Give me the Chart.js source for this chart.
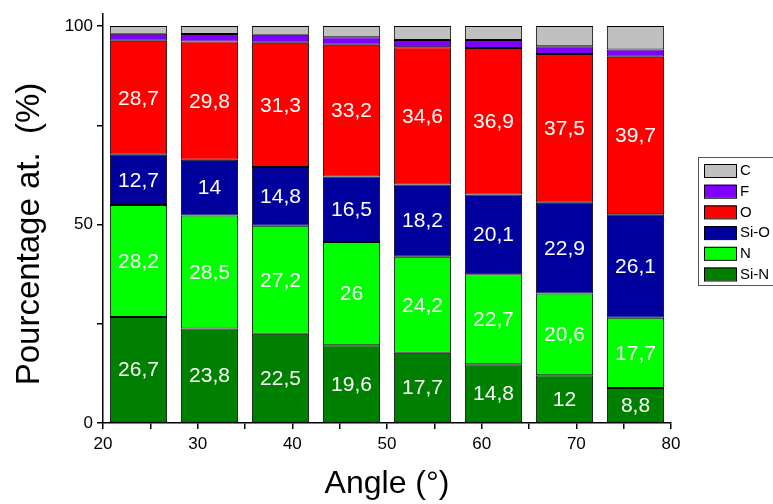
<!DOCTYPE html>
<html>
<head>
<meta charset="utf-8">
<script src="https://cdn.jsdelivr.net/npm/chart.js@4"></script>
<style>
  html, body { margin: 0; padding: 0; background: #fff; }
  #wrap { width: 773px; height: 504px; }
</style>
</head>
<body>
<div id="wrap"><canvas id="mainChart" width="773" height="504"></canvas></div>
<script>
// positions des barres sur l'axe Angle
const angles = [23.75, 31.25, 38.75, 46.25, 53.75, 61.25, 68.75, 76.25];

// pourcentages atomiques par composante
const siN  = [26.7, 23.8, 22.5, 19.6, 17.7, 14.8, 12, 8.8];
const nVal = [28.2, 28.5, 27.2, 26, 24.2, 22.7, 20.6, 17.7];
const siO  = [12.7, 14, 14.8, 16.5, 18.2, 20.1, 22.9, 26.1];
const oVal = [28.7, 29.8, 31.3, 33.2, 34.6, 36.9, 37.5, 39.7];
const fVal = [1.8, 1.9, 2.0, 1.9, 1.8, 2.0, 1.9, 1.8];
const cVal = [1.9, 2.0, 2.2, 2.8, 3.5, 3.5, 5.1, 5.9];

const seriesNames  = ['Si-N', 'N', 'Si-O', 'O', 'F', 'C'];
const seriesColors = ['#008000', '#00FF00', '#00009C', '#FF0000', '#8000FF', '#C0C0C0'];
const labelled     = [true, true, true, true, false, false];

const xTicks = [20, 25, 30, 35, 40, 45, 50, 55, 60, 65, 70, 75, 80];
const yTicks = [0, 25, 50, 75, 100];

const yTitle = 'Pourcentage at.  (%)';
const xTitle = 'Angle (°)';

const FONT = 'Arial, "Liberation Sans", sans-serif';

function toPoints(vals){
  return vals.map((v, i) => ({ x: angles[i], y: v }));
}

const allSeries = [siN, nVal, siO, oVal, fVal, cVal];

// la largeur de barre se règle sur l'écart entre graduations (5 unités)
const datasets = allSeries.map((vals, i) => ({
  label: seriesNames[i],
  data: toPoints(vals),
  backgroundColor: seriesColors[i],
  borderColor: '#000',
  borderWidth: 1,
  borderSkipped: false,
  barPercentage: 1.21,
  categoryPercentage: 1.0,
  showValues: labelled[i]
}));

// valeurs en blanc au milieu des segments
const segmentLabels = {
  id: 'segmentLabels',
  afterDatasetsDraw(chart){
    const ctx = chart.ctx;
    ctx.save();
    ctx.fillStyle = '#fff';
    ctx.font = '21px ' + FONT;
    ctx.textAlign = 'center';
    ctx.textBaseline = 'middle';
    chart.data.datasets.forEach((ds, i) => {
      if(!ds.showValues) return;
      const meta = chart.getDatasetMeta(i);
      meta.data.forEach((el, j) => {
        const txt = String(ds.data[j].y).replace('.', ',');
        ctx.fillText(txt, el.x, (el.y + el.base) / 2 + 1);
      });
    });
    ctx.restore();
  }
};

// titre vertical (un peu décalé vers le bas comme sur l'original)
const leftTitle = {
  id: 'leftTitle',
  afterDraw(chart){
    const ctx = chart.ctx;
    ctx.save();
    ctx.translate(30, 234);
    ctx.rotate(-Math.PI / 2);
    ctx.fillStyle = '#000';
    ctx.font = '33px ' + FONT;
    ctx.textAlign = 'center';
    ctx.textBaseline = 'middle';
    ctx.fillText(yTitle, 0, 0);
    ctx.restore();
  }
};

// légende encadrée à droite (ordre inversé)
const boxLegend = {
  id: 'boxLegend',
  afterDraw(chart){
    const ctx = chart.ctx;
    const x0 = 698, y0 = 157, w = 80, h = 128;
    ctx.save();
    ctx.strokeStyle = '#555';
    ctx.lineWidth = 1;
    ctx.strokeRect(x0 + 0.5, y0 + 0.5, w, h);
    ctx.font = '15px ' + FONT;
    ctx.textBaseline = 'middle';
    const items = chart.data.datasets.slice().reverse();
    items.forEach((ds, k) => {
      const y = y0 + 7 + k * 20.7;
      ctx.fillStyle = ds.backgroundColor;
      ctx.fillRect(704, y, 32, 13);
      ctx.strokeStyle = '#000';
      ctx.strokeRect(704.5, y + 0.5, 32, 13);
      ctx.fillStyle = '#000';
      ctx.fillText(ds.label, 740, y + 7);
    });
    ctx.restore();
  }
};

const ctx = document.getElementById('mainChart').getContext('2d');
const chart = new Chart(ctx, {
  type: 'bar',
  data: { datasets },
  options: {
    responsive: false,
    animation: false,
    layout: { padding: { left: 0, right: 102, top: 5, bottom: 0 } },
    plugins: { legend: { display: false }, tooltip: { enabled: false } },
    scales: {
      x: {
        type: 'linear',
        stacked: true,
        offset: false,
        min: 20,
        max: 80,
        afterBuildTicks: (s) => { s.ticks = xTicks.map(v => ({ value: v })); },
        afterFit: (s) => { s.height = 81; },
        ticks: {
          color: '#000',
          font: { family: FONT, size: 17 },
          padding: 5,
          maxRotation: 0,
          autoSkip: false,
          callback: (v) => (v % 10 === 0 ? String(v) : '')
        },
        grid: { offset: false, drawOnChartArea: false, drawTicks: true, tickLength: 6, color: '#000', lineWidth: 1.5 },
        border: { display: true, color: '#000', width: 1.5 },
        title: { display: true, text: xTitle, color: '#000', font: { family: FONT, size: 32 }, padding: { top: 0, bottom: 1 } }
      },
      y: {
        stacked: true,
        min: 0,
        max: 103,
        afterBuildTicks: (s) => { s.ticks = yTicks.map(v => ({ value: v })); },
        afterFit: (s) => { s.width = 103; },
        ticks: {
          color: '#000',
          font: { family: FONT, size: 17 },
          padding: 4,
          callback: (v) => (v % 50 === 0 ? String(v) : '')
        },
        grid: { drawOnChartArea: false, drawTicks: true, tickLength: 6, color: '#000', lineWidth: 1.5 },
        border: { display: true, color: '#000', width: 1.5 },
        title: { display: false }
      }
    }
  },
  plugins: [segmentLabels, leftTitle, boxLegend]
});
</script>
</body>
</html>
